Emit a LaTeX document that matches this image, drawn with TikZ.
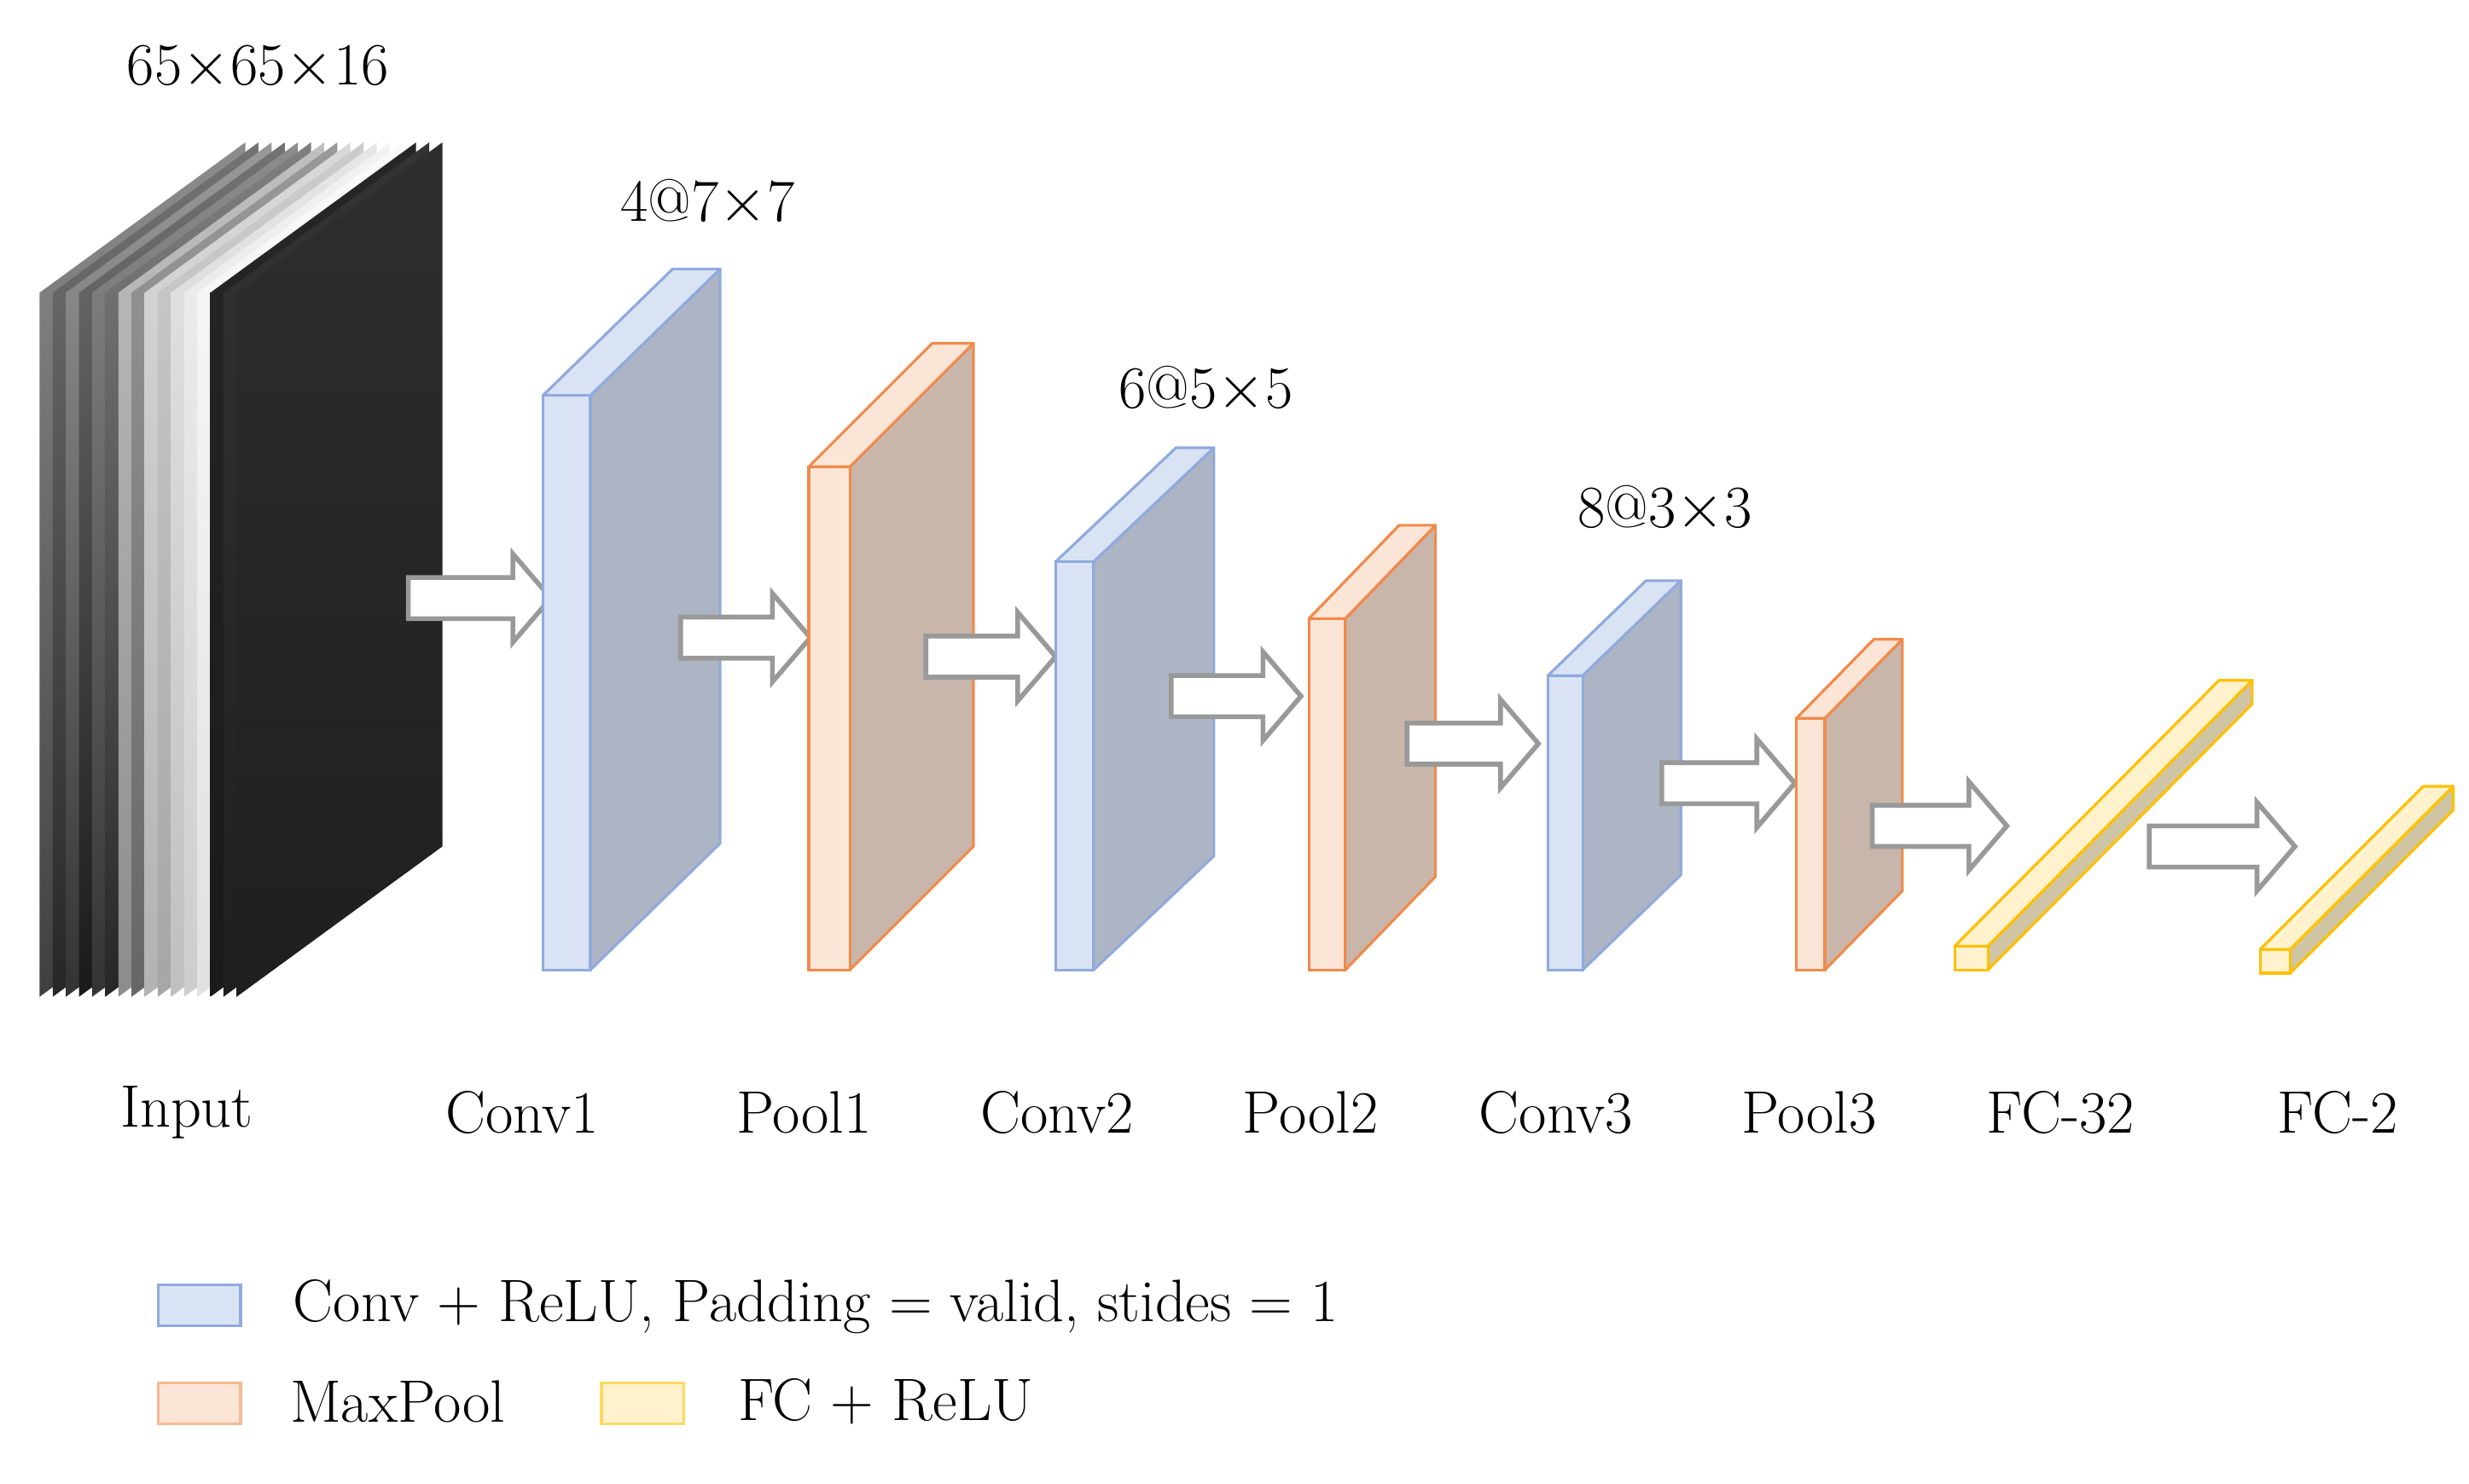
\documentclass[tikz,border=0pt]{standalone}
\begin{document}
\begin{tikzpicture}[x=0.01855cm,y=-0.01855cm,
  lbl/.style={font=\fontsize{20}{24}\selectfont, inner sep=0pt},
  arr/.style={draw=black!40, fill=white, line width=1.6pt, line join=miter},
  blue/.style={draw=blue!30!cyan!50!black!40!white},
]
\useasboundingbox (0,0) rectangle (1560,937.5);
\definecolor{bfront}{HTML}{DAE3F3}\definecolor{bside}{HTML}{ADB5C4}\definecolor{bline}{HTML}{8FAADC}
\definecolor{ofront}{HTML}{FBE5D6}\definecolor{oside}{HTML}{C9B6AA}\definecolor{oline}{HTML}{F08A4B}
\definecolor{yfront}{HTML}{FFF2CC}\definecolor{yside}{HTML}{CFC5A5}\definecolor{yline}{HTML}{FFC000}
\newcommand\cnnblock[9]{%
  \draw[draw=#8, fill=#7, line width=0.9pt, line join=round] (#1+#3,#9) -- ++(#4,-#5) -- (#1+#3+#4,#2-#5) -- (#1+#3,#2) -- cycle;
  \draw[draw=#8, fill=#6, line width=0.9pt, line join=round] (#1,#2) -- (#1+#3,#2) -- ++(#4,-#5) -- ++(-#3,0) -- cycle;
  \draw[draw=#8, fill=#6, line width=0.9pt] (#1,#9) rectangle (#1+#3,#2);}
\newcommand\harrow[3]{%
  \draw[arr] (#1,#3-13) -- (#2-24,#3-13) -- (#2-24,#3-28) -- (#2,#3) -- (#2-24,#3+28) -- (#2-24,#3+13) -- (#1,#3+13) -- cycle;}
% input stack
\foreach \i/\ct/\cb in {0/45/75,1/55/85,2/40/80,3/55/90,4/45/80,5/50/85,6/25/45,7/40/60,8/15/30,9/20/35,10/10/25,11/5/20,12/2/12,13/85/90,14/80/88,15/82/88}{
  \pgfmathsetmacro\xx{25+8.3*\i}
  \shade[top color=black!\ct, bottom color=black!\cb] (\xx,630) -- (\xx,185) -- (\xx+130,90) -- (\xx+130,535) -- cycle;
}
% arrows (behind blocks' front)
\harrow{258}{348}{378}
\cnnblock{343}{250}{30}{82}{80}{bfront}{bside}{bline}{613}
\harrow{430}{512}{403}
\cnnblock{511}{295}{26}{78}{78}{ofront}{oside}{oline}{613}
\harrow{585}{667}{415}
\cnnblock{667}{355}{24}{76}{72}{bfront}{bside}{bline}{613}
\harrow{740}{822}{440}
\cnnblock{827}{391}{23}{57}{59}{ofront}{oside}{oline}{613}
\harrow{889}{972}{470}
\cnnblock{978}{427}{22}{62}{60}{bfront}{bside}{bline}{613}
\harrow{1050}{1134}{495}
\cnnblock{1135}{454}{18}{49}{50}{ofront}{oside}{oline}{613}
\harrow{1183}{1268}{522}
\cnnblock{1235}{598}{21}{167}{168}{yfront}{yside}{yline}{613}
\harrow{1358}{1450}{535}
\cnnblock{1428}{600}{19}{103}{103}{yfront}{yside}{yline}{615}
% labels
\node[lbl] (t0) at (163,43) {65$\times$65$\times$16};
\node[lbl] (t1) at (447,128) {4@7$\times$7};
\node[lbl] (t2) at (762,246) {6@5$\times$5};
\node[lbl] (t3) at (1052,322) {8@3$\times$3};
\foreach \n/\x/\t in {a/118/Input,b/330/Conv1,c/508/Pool1,d/668/Conv2,e/828/Pool2,f/983/Conv3,g/1143/Pool3,h/1302/FC-32,k/1477/FC-2}
  \node[lbl] (\n) at (\x,703) {\t};
% legend
\draw[bline, fill=bfront, line width=0.9pt] (100,812) rectangle (152,838);
\node[lbl, anchor=west] (l1) at (185,826) {Conv + ReLU, Padding = valid, stides = 1};
\draw[oline!60, fill=ofront, line width=0.9pt] (100,874) rectangle (152,900);
\node[lbl, anchor=west] (l2) at (183,886) {MaxPool};
\draw[yline!60, fill=yfront, line width=0.9pt] (380,874) rectangle (432,900);
\node[lbl, anchor=west] (l3) at (466,886) {FC + ReLU};
\end{tikzpicture}
\end{document}
